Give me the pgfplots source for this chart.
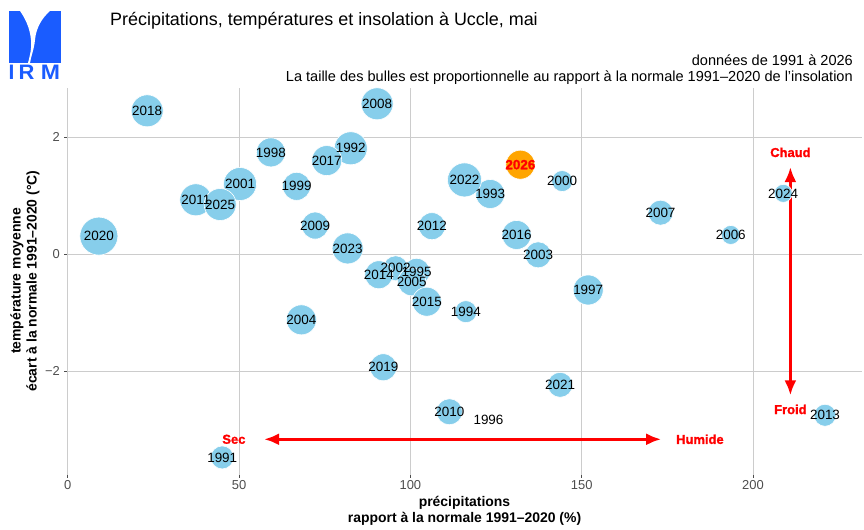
\documentclass[border=0pt]{standalone}
\usepackage{pgfplots}
\pgfplotsset{compat=1.18}
\usepackage{pgfplotstable}
\usepackage{fontspec}
\setmainfont{Liberation Sans}
\newfontfamily\heavyfont{Liberation Sans}[BoldFeatures={FakeBold=1.4}]
\usetikzlibrary{arrows.meta}
\definecolor{bubble}{HTML}{87CEEB}
\definecolor{orangeb}{HTML}{FFA500}
\definecolor{irm}{HTML}{1A5CFF}
\definecolor{gridc}{HTML}{CCCCCC}
\definecolor{tickc}{HTML}{4D4D4D}

\pgfplotstableread{
x y d year
45.1 -3.47 23 1991
82.6 1.81 33 1992
123.3 1.03 29 1993
116.2 -0.98 22 1994
101.8 -0.30 27 1995
122.8 -2.82 0 1996
151.9 -0.61 30 1997
59.3 1.74 29 1998
66.8 1.16 28 1999
144.3 1.25 21 2000
50.3 1.20 33 2001
95.7 -0.24 25 2002
137.3 -0.01 26 2003
68.2 -1.12 30 2004
100.4 -0.47 28 2005
193.5 0.33 19 2006
173.0 0.71 25 2007
90.3 2.57 32 2008
72.2 0.49 27 2009
111.4 -2.69 26 2010
37.4 0.93 32 2011
106.3 0.48 27 2012
221.0 -2.75 22 2013
90.8 -0.35 28 2014
104.8 -0.81 29 2015
131.0 0.33 29 2016
75.6 1.60 30 2017
23.2 2.45 32 2018
92.1 -1.93 27 2019
9.1 0.31 38 2020
143.7 -2.23 25 2021
115.8 1.27 34 2022
81.7 0.10 31 2023
208.8 1.04 18 2024
44.5 0.85 32 2025
}\data

\pgfplotstableread{
x y d year
132.1 1.53 29 2026
}\datacur

\begin{document}
\begin{tikzpicture}[x=1bp,y=1bp]
\path[use as bounding box] (0,0) rectangle (864,530);
% logo
\fill[irm] (9,519) rectangle (61,467);
\fill[white] (20,519) -- (50,519) .. controls (42,512) and (36,502) .. (35,490)
  .. controls (34,480) and (31,474) .. (30,467) -- (28,467)
  .. controls (30,475) and (32,482) .. (31,490)
  .. controls (30,502) and (25,512) .. (20,519) -- cycle;
\node[text=irm, font=\bfseries\fontsize{21}{21}\selectfont, inner sep=0] at (11.5,458) {I};
\node[text=irm, font=\bfseries\fontsize{21}{21}\selectfont, inner sep=0, xscale=1.05] at (26.5,458) {R};
\node[text=irm, font=\bfseries\fontsize{21}{21}\selectfont, inner sep=0, xscale=1.1] at (50.5,458) {M};
% titles
\node[anchor=west, inner sep=0, font=\fontsize{18}{18}\selectfont] at (110,509) {Précipitations, températures et insolation à Uccle, mai};
\node[anchor=east, inner sep=0, font=\fontsize{14.6}{14.6}\selectfont] at (853,470) {données de 1991 à 2026};
\node[anchor=east, inner sep=0, font=\fontsize{14.6}{14.6}\selectfont] at (853,452) {La taille des bulles est proportionnelle au rapport à la normale 1991–2020 de l'insolation};
% axis titles
\node[align=center, inner sep=0, font=\bfseries\fontsize{14}{16}\selectfont] at (464.5,19) {précipitations\\rapport à la normale 1991–2020 (\%)};
\node[align=center, inner sep=0, rotate=90, font=\bfseries\fontsize{14}{16}\selectfont] at (25,249) {température moyenne\\écart à la normale 1991–2020 (°C)};

\begin{axis}[
  at={(67bp,55bp)}, anchor=south west,
  scale only axis, width=795bp, height=387bp,
  xmin=-0.2, xmax=231.8, ymin=-3.77, ymax=2.84,
  axis lines*=left, axis line style={draw=none},
  xtick={0,50,100,150,200}, ytick={-2,0,2},
  xticklabels={0,50,100,150,200}, yticklabels={−2,0,2},
  grid=major, major grid style={draw=gridc, line width=0.8bp},
  tick align=outside, major tick length=3bp,
  tick style={draw=tickc, line width=0.8bp},
  ticklabel style={font=\fontsize{13}{13}\selectfont, text=tickc},
  xticklabel style={anchor=north, inner sep=0, yshift=-2bp},
  yticklabel style={anchor=east, inner sep=0, xshift=-4bp},
  clip=false,
]
% bubbles
\addplot[draw=none, mark=none, nodes near coords={}, 
  visualization depends on={\thisrow{d}\as\dia},
  nodes near coords align={center},
  every node near coord/.style={anchor=center, circle, inner sep=0, outer sep=0,
    fill=bubble, draw=white, line width=0.6bp, minimum size=\dia bp}]
  table[x=x, y=y]{\data};
\addplot[draw=none, mark=none, nodes near coords={}, 
  visualization depends on={\thisrow{d}\as\dia},
  nodes near coords align={center},
  every node near coord/.style={anchor=center, circle, inner sep=0, outer sep=0,
    fill=orangeb, draw=white, line width=0.6bp, minimum size=\dia bp}]
  table[x=x, y=y]{\datacur};
% labels
\addplot[draw=none, mark=none, nodes near coords, point meta=explicit symbolic,
  nodes near coords align={center},
  every node near coord/.style={anchor=center, inner sep=0, text=black, font=\fontsize{13.5}{14}\selectfont}]
  table[x=x, y=y, meta=year]{\data};
\addplot[draw=none, mark=none, nodes near coords, point meta=explicit symbolic,
  nodes near coords align={center},
  every node near coord/.style={anchor=center, inner sep=0, text=red, font=\heavyfont\bfseries\fontsize{13.5}{14}\selectfont}]
  table[x=x, y=y, meta=year]{\datacur};
% annotations
\draw[red, line width=3bp, {Latex[length=15bp,width=12bp]}-{Latex[length=15bp,width=12bp]}] (axis cs:57.3,-3.16) -- (axis cs:173.2,-3.16);
\draw[red, line width=3bp, {Latex[length=15bp,width=12bp]}-{Latex[length=15bp,width=12bp]}] (axis cs:210.9,1.49) -- (axis cs:210.9,-2.41);
\node[text=red, font=\heavyfont\bfseries\fontsize{13}{13}\selectfont] at (axis cs:48.5,-3.16) {Sec};
\node[text=red, font=\heavyfont\bfseries\fontsize{13}{13}\selectfont] at (axis cs:184.5,-3.16) {Humide};
\node[text=red, font=\heavyfont\bfseries\fontsize{13}{13}\selectfont] at (axis cs:210.9,1.74) {Chaud};
\node[text=red, font=\heavyfont\bfseries\fontsize{13}{13}\selectfont] at (axis cs:210.9,-2.65) {Froid};
\end{axis}
\end{tikzpicture}
\end{document}
